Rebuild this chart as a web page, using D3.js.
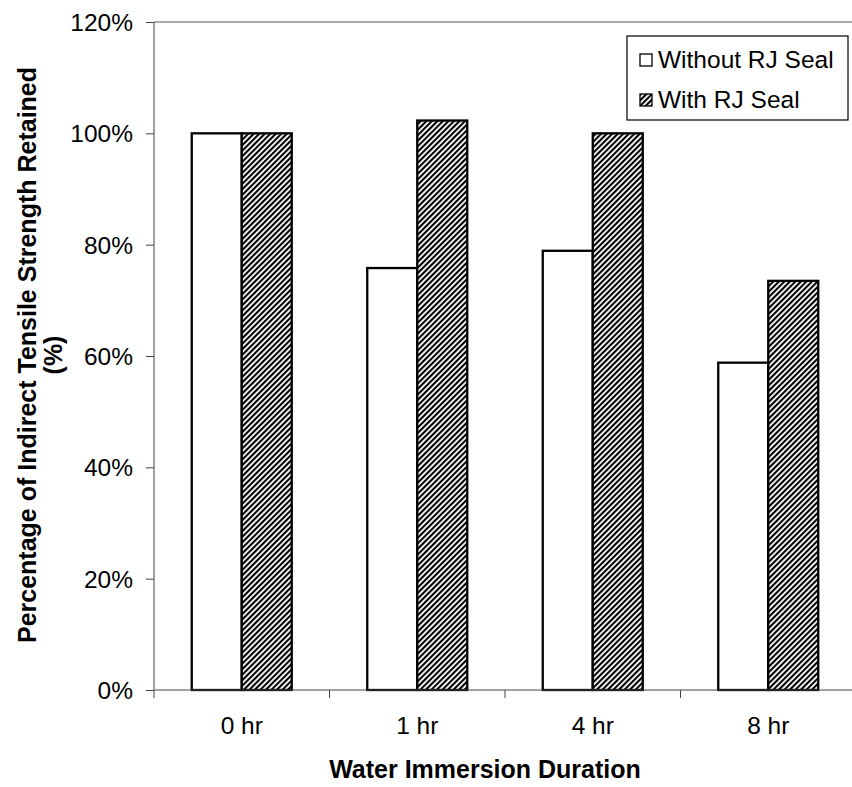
<!DOCTYPE html>
<html>
<head>
<meta charset="utf-8">
<script src="https://cdn.jsdelivr.net/npm/d3@7"></script>
<style>
  body { margin: 0; background: #fff; }
  text { font-family: "Liberation Sans", Arial, sans-serif; fill: #000; }
</style>
</head>
<body>
<div id="container"></div>
<script>
"use strict";

const categories = ["0 hr", "1 hr", "4 hr", "8 hr"];
const seriesNames = ["Without RJ Seal", "With RJ Seal"];
const withoutSeal = [100, 75.8, 78.9, 58.8];
const withSeal = [100, 102.3, 100, 73.5];
const yTicks = [0, 20, 40, 60, 80, 100, 120];

const width = 852;
const height = 787;
const margin = { top: 22, right: -4, bottom: 97, left: 154 };
const fontSize = 24.5;

const svg = d3.select("#container").append("svg")
  .attr("width", width).attr("height", height);

// Hatch pattern for the sealed series.
const defs = svg.append("defs");
defs.append("pattern")
  .attr("id", "hatch")
  .attr("patternUnits", "userSpaceOnUse")
  .attr("width", 3.9).attr("height", 3.9)
  .attr("patternTransform", "rotate(45)")
  .call((p) => {
    p.append("rect").attr("width", 3.9).attr("height", 3.9).attr("fill", "#fff");
    p.append("rect").attr("width", 2.1).attr("height", 3.9).attr("fill", "#000");
  });

const x = d3.scaleBand()
  .domain(categories)
  .range([margin.left, width - margin.right]);

const xInner = d3.scaleBand()
  .domain(seriesNames)
  .range([0, 100]);

const y = d3.scaleLinear()
  .domain([0, 120])
  .range([height - margin.bottom, margin.top]);

// Plot area top border.
svg.append("line")
  .attr("x1", margin.left).attr("x2", width)
  .attr("y1", y(120)).attr("y2", y(120))
  .attr("stroke", "#8c8c8c").attr("stroke-width", 1.5);

// Bars.
const rows = categories.map((c, i) => ({ key: c, values: [withoutSeal[i], withSeal[i]] }));
const offset = (x.bandwidth() - 100) / 2;

rows.forEach((r) => {
  r.values.forEach((v, j) => {
    svg.append("rect")
      .attr("x", x(r.key) + offset + xInner(seriesNames[j]))
      .attr("y", y(v))
      .attr("width", xInner.bandwidth())
      .attr("height", y(0) - y(v))
      .attr("fill", j === 0 ? "#fff" : "url(#hatch)")
      .attr("stroke", "#000")
      .attr("stroke-width", 2.3);
  });
});

// Y axis.
const yAxis = svg.append("g")
  .attr("transform", `translate(${margin.left},0)`)
  .call(d3.axisLeft(y).tickValues(yTicks).tickSize(8).tickPadding(13).tickFormat((d) => d + "%"));
yAxis.select(".domain").attr("stroke", "#444").attr("d", `M0,${y(120)}V${y(0)}`);
yAxis.selectAll(".tick line").attr("stroke", "#444");
yAxis.selectAll("text").style("font-size", fontSize + "px").attr("dy", "0.34em");

// X axis.
const xAxis = svg.append("g")
  .attr("transform", `translate(0,${y(0)})`)
  .call(d3.axisBottom(x).tickSize(0).tickPadding(27));
xAxis.select(".domain").attr("stroke", "#444").attr("d", `M${margin.left},0H${width}`);
xAxis.selectAll("text").style("font-size", fontSize + "px");
// Ticks at category boundaries.
xAxis.selectAll(".boundary")
  .data(categories.map((c) => x(c)).concat([x(categories[3]) + x.bandwidth()]))
  .enter().append("line")
  .attr("x1", (d) => d).attr("x2", (d) => d)
  .attr("y1", 0).attr("y2", 8)
  .attr("stroke", "#444");

// Axis titles.
svg.append("text")
  .attr("x", 485).attr("y", 778)
  .attr("text-anchor", "middle")
  .style("font-size", "25px").style("font-weight", "bold")
  .text("Water Immersion Duration");

const yTitle = svg.append("text")
  .attr("transform", "translate(0,355) rotate(-90)")
  .attr("text-anchor", "middle")
  .style("font-size", "25px").style("font-weight", "bold");
yTitle.append("tspan").attr("x", 0).attr("y", 36).text("Percentage of Indirect Tensile Strength Retained");
yTitle.append("tspan").attr("x", 0).attr("y", 62).text("(%)");

// Legend.
const legend = svg.append("g");
legend.append("rect")
  .attr("x", 627).attr("y", 36).attr("width", 221).attr("height", 84)
  .attr("fill", "#fff").attr("stroke", "#000").attr("stroke-width", 1.2);
seriesNames.forEach((name, j) => {
  const ly = 59 + j * 40;
  legend.append("rect")
    .attr("x", 640).attr("y", ly - 5).attr("width", 12).attr("height", 12)
    .attr("fill", j === 0 ? "#fff" : "url(#hatch)")
    .attr("stroke", "#000").attr("stroke-width", 1.3);
  legend.append("text")
    .attr("x", 658).attr("y", ly + 9)
    .style("font-size", fontSize + "px")
    .text(name);
});
</script>
</body>
</html>
